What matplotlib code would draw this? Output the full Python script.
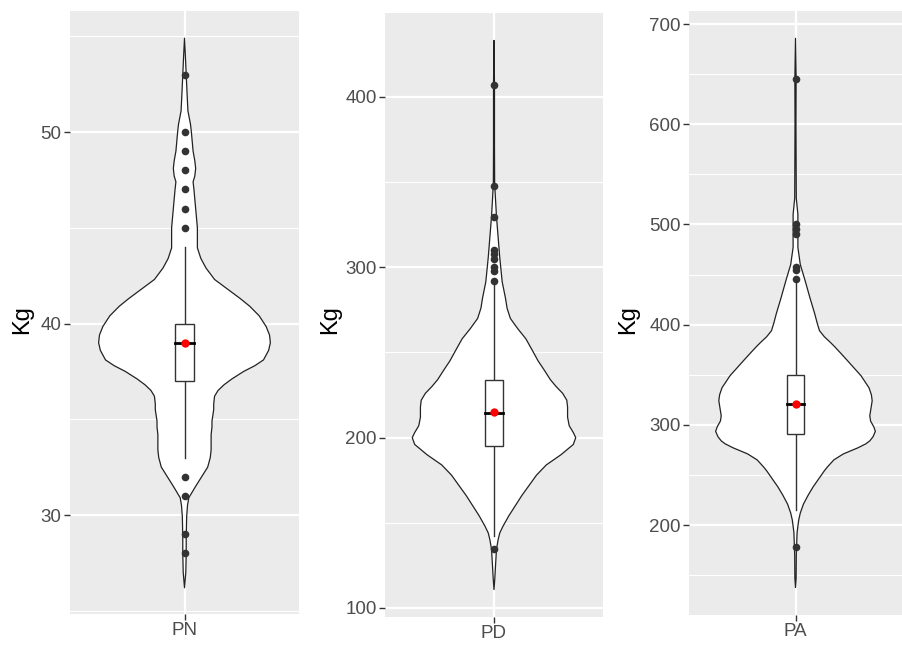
import numpy as np
import matplotlib
matplotlib.use("Agg")
import matplotlib.pyplot as plt

plt.rcParams['font.family'] = ['Liberation Sans', 'DejaVu Sans']

categories = ["PN", "PD", "PA"]

# violin profiles: y value and relative half-width (fraction of max)
pn_y = [26.2, 27.0, 28.0, 28.8, 29.9, 30.5, 30.9, 31.2, 31.5, 32.0, 32.5, 33.0, 33.4, 33.8, 34.2,
        34.6, 34.9, 35.2, 35.5, 35.8, 36.2, 36.5, 36.8, 37.1, 37.5, 37.8, 38.1, 38.6, 39.0, 39.4,
        39.85, 40.4, 40.9, 41.3, 41.8, 42.3, 42.9, 43.4, 43.95, 44.5, 45.0, 45.5, 46.0, 46.5, 47.0,
        47.4, 47.7, 48.1, 48.5, 49.0, 49.5, 50.0, 50.4, 51.1, 52.0, 53.0, 54.0, 54.9]
pn_w = [0.0, 0.015, 0.02, 0.02, 0.025, 0.035, 0.05, 0.09, 0.13, 0.20, 0.27, 0.30, 0.31, 0.31, 0.31,
        0.32, 0.32, 0.33, 0.34, 0.34, 0.35, 0.39, 0.46, 0.55, 0.69, 0.82, 0.92, 0.98, 1.0, 0.99,
        0.95, 0.87, 0.76, 0.65, 0.50, 0.35, 0.25, 0.19, 0.15, 0.15, 0.15, 0.14, 0.13, 0.12, 0.11,
        0.10, 0.12, 0.13, 0.12, 0.10, 0.09, 0.08, 0.07, 0.04, 0.03, 0.02, 0.01, 0.0]

pd_y = [110.8, 117.4, 126.0, 134.3, 140.0, 144.0, 148.0, 154.0, 160.0, 166.0, 172.0, 178.0,
        184.0, 190.0, 196.0, 200.0, 203.0, 207.0, 212.0, 218.0, 222.0, 226.0, 230.0, 234.0,
        240.0, 245.0, 252.0, 258.0, 264.0, 270.0, 276.0, 282.0, 291.5, 306.0, 318.0, 330.0,
        349.0, 371.0, 407.0, 433.2]
pd_w = [0.0, 0.01, 0.02, 0.03, 0.05, 0.07, 0.11, 0.18, 0.26, 0.34, 0.43, 0.52,
        0.64, 0.82, 0.97, 1.0, 0.97, 0.92, 0.90, 0.90, 0.89, 0.84, 0.76, 0.69,
        0.61, 0.54, 0.46, 0.39, 0.29, 0.20, 0.16, 0.14, 0.10, 0.07, 0.05, 0.03,
        0.008, 0.006, 0.006, 0.0]

pa_y = [137.6, 147.0, 170.0, 192.6, 205.0, 212.0, 221.0, 230.0, 238.0, 246.0, 254.0, 258.0,
        265.0, 271.0, 277.0, 281.0, 284.0, 288.0, 293.5, 298.0, 303.8, 309.0, 314.0, 319.0,
        324.0, 330.0, 337.0, 343.0, 349.0, 357.0, 365.0, 372.0, 378.0, 382.0, 388.0, 394.0,
        402.0, 411.0, 427.0, 444.0, 460.0, 477.0, 510.0, 526.0, 600.0, 645.6, 685.7]
pa_w = [0.0, 0.008, 0.01, 0.02, 0.04, 0.06, 0.10, 0.16, 0.22, 0.29, 0.36, 0.40,
        0.48, 0.60, 0.78, 0.88, 0.93, 0.97, 1.0, 0.98, 0.94, 0.93, 0.94, 0.95,
        0.96, 0.95, 0.92, 0.87, 0.82, 0.73, 0.64, 0.56, 0.49, 0.44, 0.36, 0.30,
        0.27, 0.24, 0.18, 0.12, 0.06, 0.03, 0.03, 0.01, 0.006, 0.008, 0.0]

# box stats: whisker low, Q1, median, Q3, whisker high, mean
pn_box = [33.0, 37.0, 39.0, 40.0, 44.0, 39.0]
pd_box = [142.0, 195.2, 214.7, 233.8, 291.0, 215.0]
pa_box = [215.0, 290.6, 321.0, 350.0, 444.0, 321.0]

pn_out = [53, 50, 49, 48, 47, 46, 45, 32, 31, 29, 28]
pd_out = [407, 347.6, 329.5, 310, 308, 305, 300, 298, 292, 134.8]
pa_out = [645, 500, 495, 490, 458, 455, 446, 178]

pn_ticks = [30, 40, 50]
pd_ticks = [100, 200, 300, 400]
pa_ticks = [200, 300, 400, 500, 600, 700]

pn_minor = [25, 35, 45, 55]
pd_minor = [150, 250, 350]
pa_minor = [150, 250, 350, 450, 550, 650]

ylims = [(24.83, 56.32), (94.7, 449.3), (110.2, 713.0)]

fig = plt.figure(figsize=(9.02, 6.47), dpi=100)
rects = [
    [70/902, 1-614/647, 229/902, 603/647],
    [385/902, 1-617/647, 218/902, 604/647],
    [689/902, 1-615/647, 213/902, 604/647],
]
ylabel_x = [22, 330, 628]

datasets = [
    (pn_y, pn_w, pn_box, pn_out, pn_ticks, pn_minor),
    (pd_y, pd_w, pd_box, pd_out, pd_ticks, pd_minor),
    (pa_y, pa_w, pa_box, pa_out, pa_ticks, pa_minor),
]

for i, (vy, vw, box, outs, ticks, minor) in enumerate(datasets):
    ax = fig.add_axes(rects[i])
    ax.set_facecolor('#EBEBEB')
    for s in ax.spines.values():
        s.set_visible(False)
    ax.set_xlim(0.4, 1.6)
    ax.set_ylim(*ylims[i])
    for m in minor:
        ax.axhline(m, color='white', lw=0.8, zorder=0)
    for t in ticks:
        ax.axhline(t, color='white', lw=1.6, zorder=0)
    ax.axvline(1, color='white', lw=1.6, zorder=0)

    vy = np.array(vy)
    hw = 0.45 * np.array(vw)
    xs = np.concatenate([1 - hw, (1 + hw)[::-1]])
    ys = np.concatenate([vy, vy[::-1]])
    ax.fill(xs, ys, facecolor='white', edgecolor='#222222', lw=0.9, zorder=2,
            joinstyle='round')

    wl, q1, med, q3, wh, mean = box
    bw = 0.05
    ax.plot([1, 1], [wl, q1], color='#333333', lw=1.0, zorder=3)
    ax.plot([1, 1], [q3, wh], color='#333333', lw=1.0, zorder=3)
    ax.fill([1-bw, 1+bw, 1+bw, 1-bw], [q1, q1, q3, q3], facecolor='white',
            edgecolor='#333333', lw=1.0, zorder=3)
    ax.plot([1-bw, 1+bw], [med, med], color='black', lw=2.0, zorder=4)
    ax.plot([1]*len(outs), outs, 'o', color='#333333', ms=5.5, mec='none', zorder=4)
    ax.plot([1], [mean], 'o', color='red', ms=6, mec='none', zorder=5)

    ax.set_xticks([1])
    ax.set_xticklabels([categories[i]])
    ax.set_yticks(ticks)
    ax.tick_params(axis='both', colors='#333333', labelcolor='#4D4D4D', labelsize=13.5,
                   length=4, width=1.0, pad=2)
    fig.text(ylabel_x[i]/902, 1-320/647, 'Kg', rotation=90, ha='center', va='center',
             fontsize=17, color='black')

fig.savefig('out.png', dpi=100)
